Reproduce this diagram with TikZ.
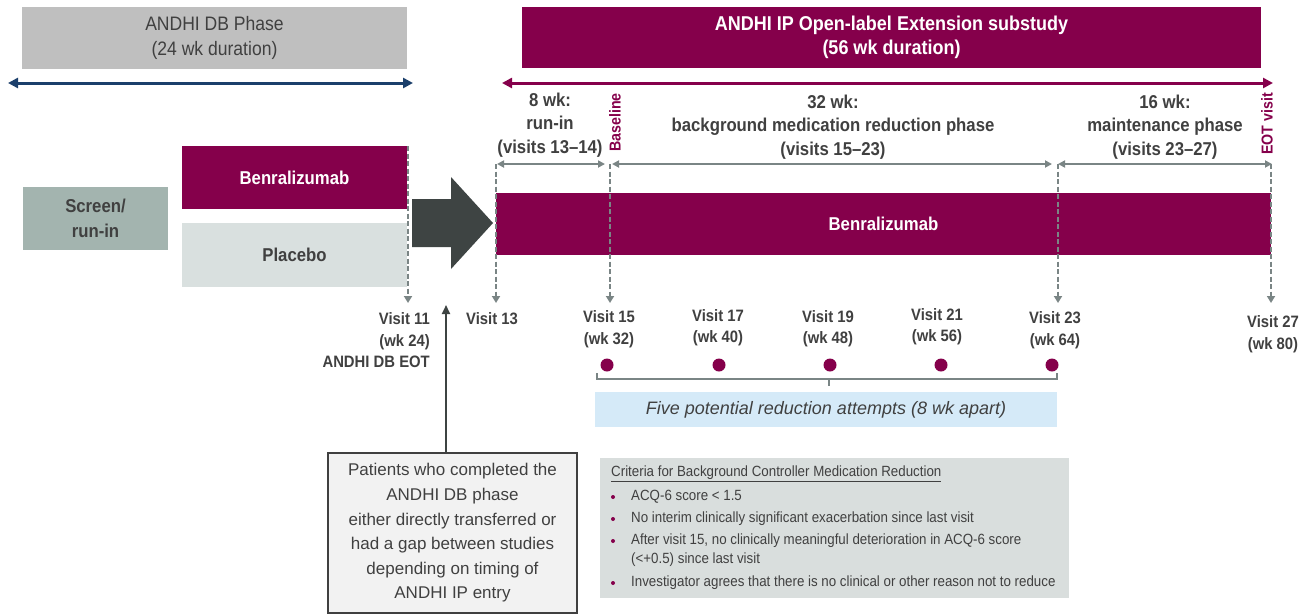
\documentclass[tikz,border=0pt]{standalone}
\usepackage{fontspec}
\setmainfont{Liberation Sans}[FakeStretch=0.9]
\newfontfamily\widefont{Liberation Sans}
\usetikzlibrary{arrows.meta}
\definecolor{maroon}{HTML}{85004B}
\definecolor{tx}{HTML}{404040}
\definecolor{hdrgray}{HTML}{BFBFBF}
\definecolor{navy}{HTML}{1B3F6B}
\definecolor{dashgray}{HTML}{7A8585}
\definecolor{placebo}{HTML}{D9E0DF}
\definecolor{screen}{HTML}{A3B4AF}
\definecolor{bigarrow}{HTML}{3E4443}
\definecolor{lightblue}{HTML}{D5EAF8}
\definecolor{patfill}{HTML}{F2F2F2}
\definecolor{critfill}{HTML}{D9DEDD}
\tikzset{
  txt/.style={text=tx, inner sep=0pt},
  phase/.style={txt, font=\bfseries\fontsize{18.6}{23.5}\selectfont, align=center},
  visit/.style={txt, font=\bfseries\fontsize{16.5}{21.5}\selectfont, align=center},
  bar/.style={draw=none, inner sep=0pt, font=\bfseries\fontsize{18.6}{25}\selectfont, align=center},
  rotlbl/.style={text=maroon, inner sep=0pt, font=\bfseries\fontsize{15.8}{18}\selectfont, rotate=90},
  dasharrow/.style={draw=dashgray, line width=2pt, dash pattern=on 5pt off 2.5pt, -{Triangle[length=7pt,width=8pt]}},
  spanarrow/.style={draw=dashgray, line width=2pt, {Triangle[length=7pt,width=7pt]}-{Triangle[length=7pt,width=7pt]}},
  bigspan/.style={line width=3pt, {Triangle[length=10pt,width=10pt]}-{Triangle[length=10pt,width=10pt]}},
  dotnode/.style={circle, fill=maroon, minimum size=13pt, inner sep=0pt},
  crit/.style={txt, font=\fontsize{14.8}{19}\selectfont, align=left, anchor=west},
  bul/.style={circle, fill=maroon, minimum size=4pt, inner sep=0pt},
  bracketline/.style={draw=dashgray, line width=2pt},
}
\begin{document}
\begin{tikzpicture}[x=1pt,y=-1pt]
\useasboundingbox (0,0) rectangle (1311,614);
\fill[white] (0,0) rectangle (1311,614);

% headers
\node[fill=hdrgray, minimum width=385pt, minimum height=62pt, inner sep=0pt, text=tx,
      font=\fontsize{19.5}{25}\selectfont, align=center] (dbhdr) at (214.5,38) {ANDHI DB Phase\\(24 wk duration)};
\node[fill=maroon, minimum width=739pt, minimum height=61pt, inner sep=0pt, text=white,
      font=\bfseries\fontsize{20}{24.5}\selectfont, align=center] (iphdr) at (891.5,37.5) {ANDHI IP Open-label Extension substudy\\(56 wk duration)};

% duration arrows
\coordinate (dbL) at (8,83); \coordinate (dbR) at (413,83);
\draw[bigspan, navy] (dbL) -- (dbR);
\coordinate (ipL) at (502,83); \coordinate (ipR) at (1273,83);
\draw[bigspan, maroon] (ipL) -- (ipR);

% phase labels
\node[phase] (p8) at (550,125) {8 wk:\\run-in\\(visits 13–14)};
\node[phase] (p32) at (833,127) {32 wk:\\background medication reduction phase\\(visits 15–23)};
\node[phase] (p16) at (1165,127) {16 wk:\\maintenance phase\\(visits 23–27)};
\node[rotlbl] (baseline) at (615,122.5) {Baseline};
\node[rotlbl] (eot) at (1267,124) {EOT visit};

% span arrows
\coordinate (s1) at (497,164); \coordinate (s2) at (605,164);
\coordinate (s3) at (612,164); \coordinate (s4) at (1052,164);
\coordinate (s5) at (1058,164); \coordinate (s6) at (1272,164);
\draw[spanarrow] (s1) -- (s2);
\draw[spanarrow] (s3) -- (s4);
\draw[spanarrow] (s5) -- (s6);

% bars
\node[bar, fill=maroon, text=white, minimum width=225pt, minimum height=63pt] (benL) at (294.5,177.5) {Benralizumab};
\node[bar, fill=placebo, text=tx, minimum width=225pt, minimum height=64pt] (plac) at (294.5,255) {Placebo};
\node[bar, fill=screen, text=tx, minimum width=145pt, minimum height=63pt] (scr) at (95.5,218.5) {Screen/\\run-in};
\node[bar, fill=maroon, text=white, minimum width=775pt, minimum height=62pt] (benR) at (883.5,224) {Benralizumab};

% big transfer arrow
\fill[bigarrow] (412,199) -- (451,199) -- (451,177) -- (493,223) -- (451,269) -- (451,247) -- (412,247) -- cycle;

% dashed visit lines
\coordinate (t11) at (408,146); \coordinate (e11) at (408,303);
\coordinate (t13) at (496,164); \coordinate (e13) at (496,303);
\coordinate (t15) at (610,164); \coordinate (e15) at (610,303);
\coordinate (t23) at (1058,164); \coordinate (e23) at (1058,303);
\coordinate (t27) at (1271,164); \coordinate (e27) at (1271,303);
\draw[dasharrow] (t11) -- (e11);
\draw[dasharrow] (t13) -- (e13);
\draw[dasharrow] (t15) -- (e15);
\draw[dasharrow] (t23) -- (e23);
\draw[dasharrow] (t27) -- (e27);

% visit labels
\node[visit, align=right, anchor=east] (v11) at (430,340.5) {Visit 11\\(wk 24)\\ANDHI DB EOT};
\node[visit] (v13) at (492,319) {Visit 13};
\node[visit] (v15) at (609,329) {Visit 15\\(wk 32)};
\node[visit] (v17) at (718,327.5) {Visit 17\\(wk 40)};
\node[visit] (v19) at (828,328.5) {Visit 19\\(wk 48)};
\node[visit] (v21) at (937,326.5) {Visit 21\\(wk 56)};
\node[visit] (v23) at (1055,330) {Visit 23\\(wk 64)};
\node[visit] (v27) at (1273,334) {Visit 27\\(wk 80)};

% reduction dots
\node[dotnode] (d1) at (607,365) {};
\node[dotnode] (d2) at (719,365) {};
\node[dotnode] (d3) at (830,365) {};
\node[dotnode] (d4) at (941,365) {};
\node[dotnode] (d5) at (1052,365) {};

% bracket
\coordinate (bA) at (597,373); \coordinate (bB) at (597,379);
\coordinate (bC) at (1057,379); \coordinate (bD) at (1057,373);
\coordinate (bM) at (829,379); \coordinate (bN) at (829,386);
\draw[bracketline] (bA) -- (bB) -- (bC) -- (bD);
\draw[bracketline] (bM) -- (bN);

\node[fill=lightblue, minimum width=462pt, minimum height=35pt, inner sep=0pt, text=tx,
      font={\widefont\itshape\fontsize{18}{22}\selectfont}] (five) at (826,409.5) {Five potential reduction attempts (8 wk apart)};

% patients box
\node[draw=tx, line width=1.5pt, fill=patfill, minimum width=249pt, minimum height=160pt, inner sep=0pt,
      text=tx, align=center, font={\widefont\fontsize{17}{24.6}\selectfont}] (pat) at (452.5,533)
  {Patients who completed the\\ANDHI DB phase\\either directly transferred or\\had a gap between studies\\depending on timing of\\ANDHI IP entry};
\coordinate (up) at (446,305);
\draw[bigarrow, line width=2pt, -{Triangle[length=9pt,width=8pt]}] (pat.north -| up) -- (up);

% criteria box
\node[fill=critfill, minimum width=469pt, minimum height=140pt, inner sep=0pt] (critbox) at (834.5,528) {};
\node[crit] (ct) at (611,474) {\underline{Criteria for Background Controller Medication Reduction}};
\node[crit] (c1) at (631,497) {ACQ-6 score < 1.5};
\node[crit] (c2) at (631,519) {No interim clinically significant exacerbation since last visit};
\node[crit] (c3) at (631,550.5) {After visit 15, no clinically meaningful deterioration in ACQ-6 score\\(<+0.5) since last visit};
\node[crit] (c4) at (631,583) {Investigator agrees that there is no clinical or other reason not to reduce};
\node[bul] (b1) at (613,497) {};
\node[bul] (b2) at (613,519) {};
\node[bul] (b3) at (613,541) {};
\node[bul] (b4) at (613,583) {};
\end{tikzpicture}
\end{document}
